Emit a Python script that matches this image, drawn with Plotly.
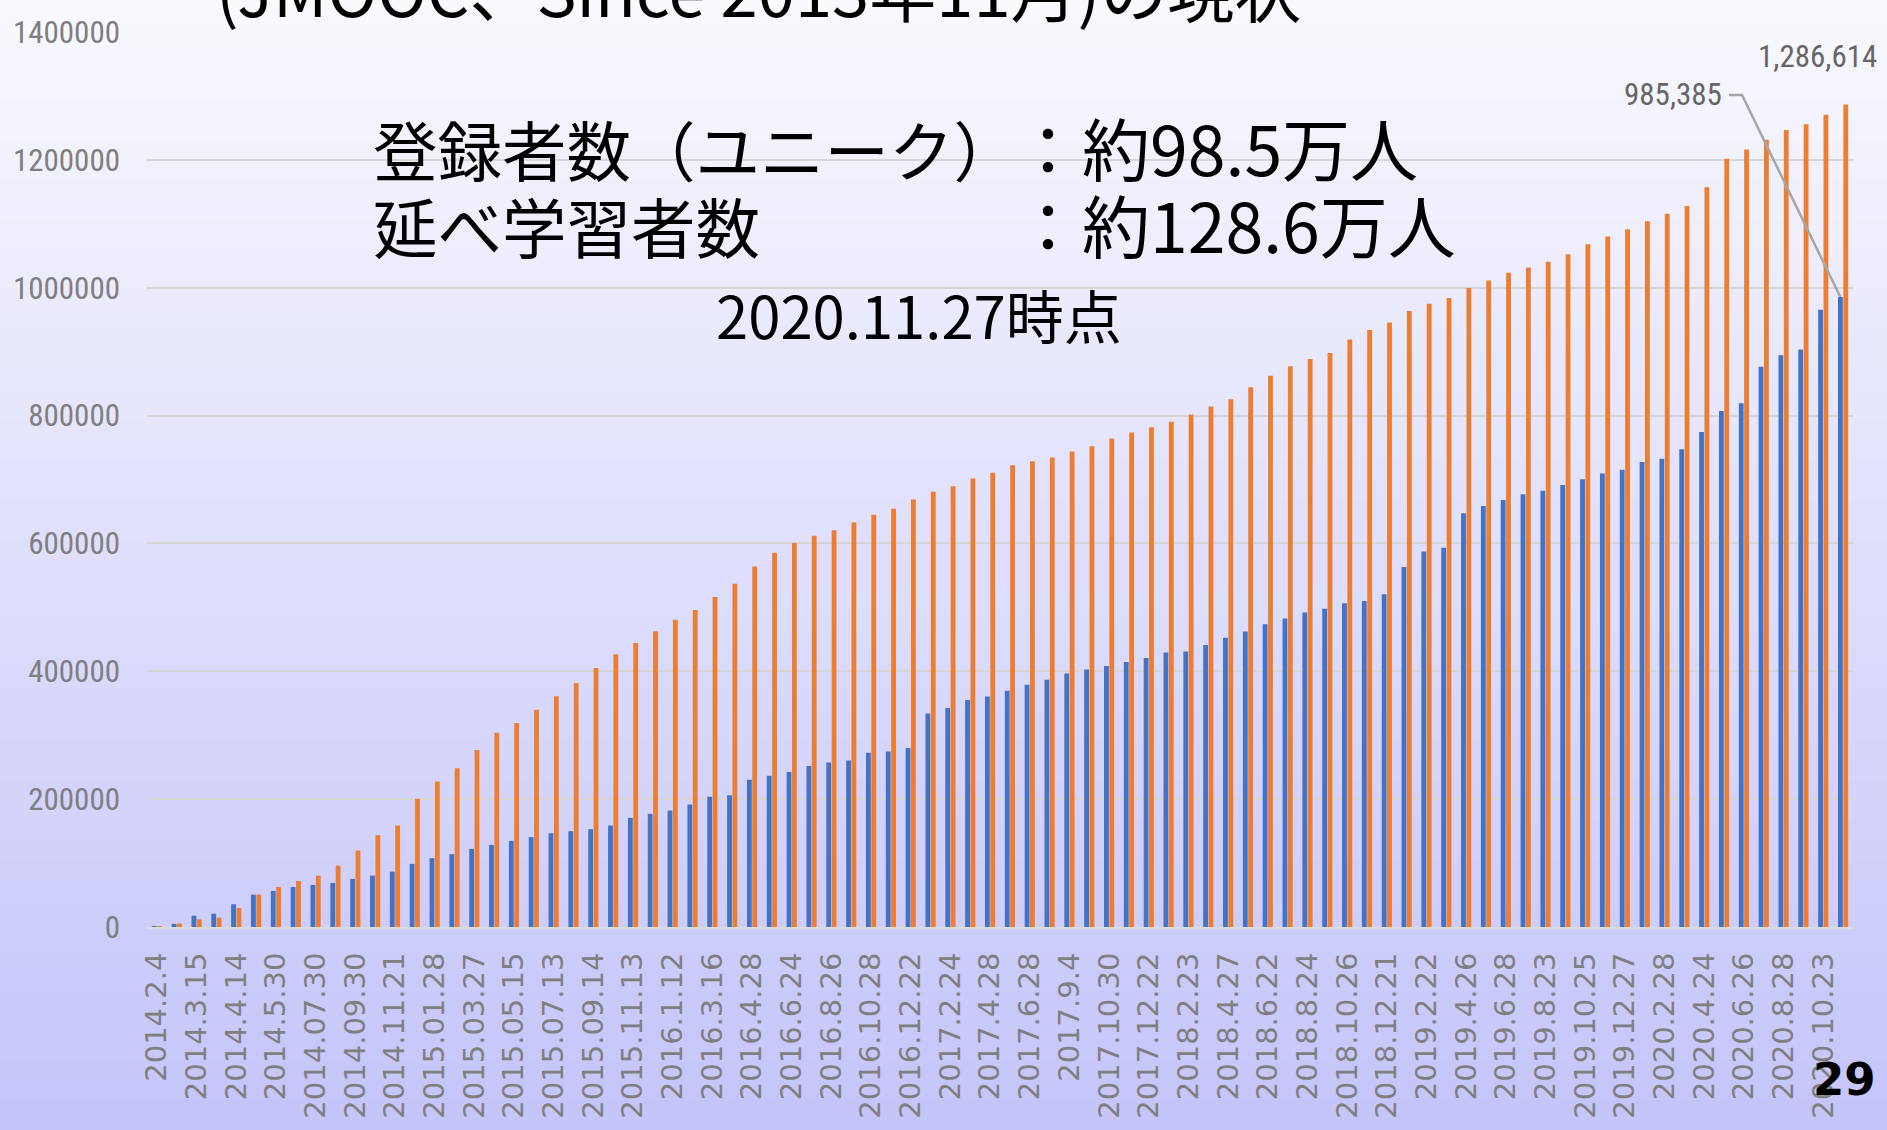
import plotly.graph_objects as go

# ---------------- data ----------------
tick_labels = ["2014.2.4", "2014.3.15", "2014.4.14", "2014.5.30", "2014.07.30", "2014.09.30",
               "2014.11.21", "2015.01.28", "2015.03.27", "2015.05.15", "2015.07.13", "2015.09.14",
               "2015.11.13", "2016.1.12", "2016.3.16", "2016.4.28", "2016.6.24", "2016.8.26",
               "2016.10.28", "2016.12.22", "2017.2.24", "2017.4.28", "2017.6.28", "2017.9.4",
               "2017.10.30", "2017.12.22", "2018.2.23", "2018.4.27", "2018.6.22", "2018.8.24",
               "2018.10.26", "2018.12.21", "2019.2.22", "2019.4.26", "2019.6.28", "2019.8.23",
               "2019.10.25", "2019.12.27", "2020.2.28", "2020.4.24", "2020.6.26", "2020.8.28",
               "2020.10.23"]

# 登録者数（ユニーク）
registrants = [300, 5000, 17700, 20800, 35500, 50600, 56400, 62600, 65800, 68900,
               75200, 80400, 86600, 98700, 107600, 113900, 122200, 128400, 134700, 140500,
               146700, 149900, 153000, 158700, 170700, 177000, 182200, 191600, 203600, 206200,
               230200, 236500, 242300, 251700, 257400, 260500, 272500, 274600, 279900, 334100,
               342500, 355100, 360700, 369600, 379000, 386800, 396400, 402600, 408400, 414600,
               420900, 429200, 431000, 441200, 452500, 462100, 473400, 482400, 491900, 497900,
               506300, 509800, 520600, 563000, 587500, 593400, 647200, 658500, 668000, 677000,
               682400, 691300, 700300, 709200, 715200, 727200, 732500, 747500, 774300, 807200,
               819100, 876400, 894300, 903300, 965400, 985385]

# 延べ学習者数
learners = [300, 5500, 12000, 14600, 29700, 50600, 62600, 72000, 80400, 96000,
            119500, 143600, 158700, 200500, 227600, 248500, 276700, 303800, 319000, 339900,
            361000, 381800, 405200, 426600, 444300, 462500, 480700, 495900, 516200, 537000,
            564100, 585400, 600500, 612000, 620800, 632800, 644800, 654200, 668800, 680700,
            689600, 701600, 710400, 722400, 728700, 734400, 743800, 752100, 764100, 773400,
            781800, 790500, 801800, 814300, 825700, 844200, 862100, 877000, 888400, 897900,
            918800, 933700, 945700, 963600, 974900, 983900, 999400, 1011300, 1023300, 1031600,
            1040600, 1052500, 1068000, 1080000, 1091400, 1103900, 1115800, 1127800, 1157000, 1201800,
            1216100, 1231600, 1246600, 1255600, 1270500, 1286614]

y_ticks = [0, 200000, 400000, 600000, 800000, 1000000, 1200000, 1400000]

# ---------------- layout geometry ----------------
W_FIG, H_FIG = 1887, 1130
L, R, T, B = 147, 1853, 32, 927
PW, PH = R - L, B - T


def px(x):
    return (x - L) / PW


def py(y):
    return (B - y) / PH


n = len(registrants)
xs = list(range(n))
tick_pos = xs[::2][:len(tick_labels)]

BLUE = "#4472C4"
ORANGE = "#ED7D31"

fig = go.Figure()
fig.add_trace(go.Bar(x=xs, y=registrants, name="登録者数", marker=dict(color=BLUE, line=dict(width=0))))
fig.add_trace(go.Bar(x=xs, y=learners, name="延べ学習者数", marker=dict(color=ORANGE, line=dict(width=0))))

bargap, groupgap = 0.46, 0.1
bar_w = (1 - bargap) / 2
blue_off = -bar_w / 2

# leader line for the last registrant value
cat_px = PW / n
lx0 = (1729 - L) / cat_px - 0.5
lx1 = (1742 - L) / cat_px - 0.5
ly = (B - 95) / PH * 1400000
fig.add_trace(go.Scatter(x=[lx0, lx1, xs[-1] + blue_off], y=[ly, ly, registrants[-1]],
                         mode="lines", line=dict(color="#a6a6a6", width=2.5),
                         showlegend=False, hoverinfo="skip", cliponaxis=False))

# background gradient
shapes = []
N = 113
top = (249, 249, 254)
bot = (196, 196, 250)
for k in range(N):
    y0 = k * H_FIG / N
    y1 = (k + 1) * H_FIG / N + 1
    t = (k + 0.5) / N
    c = tuple(int(round(top[j] + (bot[j] - top[j]) * t)) for j in range(3))
    shapes.append(dict(type="rect", xref="paper", yref="paper",
                       x0=px(-5), x1=px(W_FIG + 5), y0=py(y1), y1=py(y0),
                       fillcolor=f"rgb{c}", line=dict(width=0), layer="below"))

narrow = "Liberation Sans Narrow, Arial Narrow, Roboto Condensed, Liberation Sans, sans-serif"
jp = "Noto Sans CJK JP, sans-serif"

annotations = [
    dict(text="(JMOOC、Since 2013年11月)の現状", xref="paper", yref="paper",
         x=px(214), y=py(-13), xanchor="left", yanchor="middle", showarrow=False,
         font=dict(family=jp, size=67, color="black")),
    dict(text="登録者数（ユニーク）", xref="paper", yref="paper", x=px(371), y=py(148),
         xanchor="left", yanchor="middle", showarrow=False, font=dict(family=jp, size=64.5, color="black")),
    dict(text="：約98.5万人", xref="paper", yref="paper", x=px(1012), y=py(146),
         xanchor="left", yanchor="middle", showarrow=False, font=dict(family=jp, size=68, color="black")),
    dict(text="延べ学習者数", xref="paper", yref="paper", x=px(371), y=py(225),
         xanchor="left", yanchor="middle", showarrow=False, font=dict(family=jp, size=64.5, color="black")),
    dict(text="：約128.6万人", xref="paper", yref="paper", x=px(1012), y=py(223),
         xanchor="left", yanchor="middle", showarrow=False, font=dict(family=jp, size=68, color="black")),
    dict(text="2020.11.27時点", xref="paper", yref="paper", x=px(714), y=py(314),
         xanchor="left", yanchor="middle", showarrow=False, font=dict(family=jp, size=58, color="black")),
    dict(text=f"{learners[-1]:,}", x=xs[-1] - blue_off, y=learners[-1], xref="x", yref="y",
         xanchor="center", yanchor="bottom", xshift=-28, yshift=27, showarrow=False,
         font=dict(family=narrow, size=31, color="#666666")),
    dict(text=f"{registrants[-1]:,}", xref="paper", yref="paper", x=px(1724), y=py(94),
         xanchor="right", yanchor="middle", showarrow=False,
         font=dict(family=narrow, size=31, color="#666666")),
    dict(text="<b>29</b>", xref="paper", yref="paper", x=px(1844), y=py(1079),
         xanchor="center", yanchor="middle", showarrow=False,
         font=dict(family="DejaVu Sans, sans-serif", size=45, color="black")),
]

fig.update_layout(
    width=W_FIG, height=H_FIG, autosize=False,
    margin=dict(l=L, r=W_FIG - R, t=T, b=H_FIG - B, pad=0, autoexpand=False),
    paper_bgcolor="white", plot_bgcolor="rgba(0,0,0,0)",
    barmode="group", bargap=bargap, bargroupgap=groupgap,
    showlegend=False, shapes=shapes, annotations=annotations,
    xaxis=dict(range=[-0.5, n - 0.5], tickmode="array", tickvals=tick_pos, ticktext=tick_labels,
               tickangle=-90, showgrid=False, zeroline=False, showline=True, automargin=False,
               linecolor="#dcdcdc", linewidth=2, ticks="", ticklabelstandoff=12,
               tickfont=dict(family="DejaVu Sans, sans-serif", size=29, color="#7f7f7f")),
    yaxis=dict(range=[0, 1400000], tickmode="array", tickvals=y_ticks, tickformat="d",
               showgrid=True, gridcolor="#d6d6d6", gridwidth=2, zeroline=False, automargin=False,
               showline=False, ticks="", ticklabelstandoff=26,
               tickfont=dict(family=narrow, size=31, color="#7f7f7f")),
)

fig.write_html("out.html", config={"displayModeBar": False},
               post_script="document.body.style.margin='0';document.body.style.overflow='hidden';")
